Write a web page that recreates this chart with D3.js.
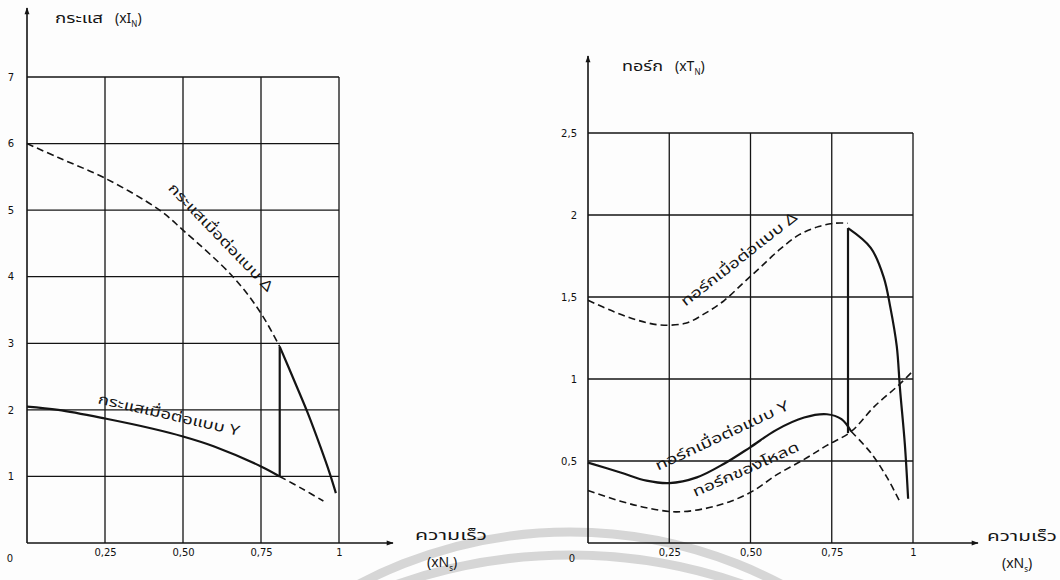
<!DOCTYPE html>
<html>
<head>
<meta charset="utf-8">
<script src="https://cdn.jsdelivr.net/npm/d3@7"></script>
<style>
    body { margin: 0; background: #fdfdfd; }
    svg { display: block; }
    .tick text { font-family: "DejaVu Sans", sans-serif; font-size: 10px; fill: #111; }
    .thai { font-family: "Noto Sans Thai", "Noto Sans", "DejaVu Sans", sans-serif; fill: #151515; }
</style>
</head>
<body>
<div id="chart"></div>
<script>
//Datos - ejes
const speedTicks = [0.25, 0.5, 0.75, 1];
const speedTickLabels = ['0,25', '0,50', '0,75', '1'];
const currentTicks = [1, 2, 3, 4, 5, 6, 7];
const currentTickLabels = ['1', '2', '3', '4', '5', '6', '7'];
const torqueTicks = [0.5, 1, 1.5, 2, 2.5];
const torqueTickLabels = ['0,5', '1', '1,5', '2', '2,5'];

//Datos - corriente (izquierda)
const currentDeltaSpeed = [0, 0.1, 0.25, 0.425, 0.5, 0.66, 0.75, 0.81];
const currentDeltaValue = [6.0, 5.79, 5.48, 5.0, 4.7, 4.0, 3.45, 2.95];
const currentDropSpeed = [0.81, 0.86, 0.9, 0.94, 0.97, 0.99];
const currentDropValue = [2.95, 2.4, 1.95, 1.45, 1.05, 0.75];
const currentSwitchSpeed = [0.81, 0.81];
const currentSwitchValue = [1.0, 2.95];
const currentStarSpeed = [0, 0.1, 0.25, 0.4, 0.5, 0.6, 0.75, 0.81];
const currentStarValue = [2.05, 2.0, 1.87, 1.72, 1.6, 1.45, 1.15, 1.0];
const currentStarTailSpeed = [0.81, 0.88, 0.95];
const currentStarTailValue = [1.0, 0.82, 0.63];

//Datos - par (derecha)
const torqueDeltaSpeed = [0, 0.08, 0.15, 0.22, 0.3, 0.36, 0.42, 0.48, 0.53, 0.59, 0.65, 0.71, 0.76, 0.8];
const torqueDeltaValue = [1.48, 1.41, 1.36, 1.33, 1.34, 1.4, 1.48, 1.59, 1.68, 1.79, 1.88, 1.93, 1.95, 1.95];
const torqueDropSpeed = [0.8, 0.87, 0.91, 0.93, 0.95, 0.96, 0.975, 0.985];
const torqueDropValue = [1.92, 1.8, 1.62, 1.44, 1.2, 0.94, 0.6, 0.27];
const torqueSwitchSpeed = [0.8, 0.8];
const torqueSwitchValue = [0.67, 1.92];
const torqueStarSpeed = [0, 0.1, 0.18, 0.25, 0.335, 0.42, 0.5, 0.58, 0.665, 0.735, 0.78, 0.81];
const torqueStarValue = [0.49, 0.43, 0.38, 0.365, 0.4, 0.485, 0.585, 0.69, 0.765, 0.785, 0.755, 0.68];
const torqueStarTailSpeed = [0.81, 0.87, 0.92, 0.96];
const torqueStarTailValue = [0.68, 0.55, 0.4, 0.25];
const loadSpeed = [0, 0.1, 0.18, 0.27, 0.36, 0.44, 0.51, 0.58, 0.665, 0.735, 0.81, 0.88, 0.96, 1.0];
const loadValue = [0.32, 0.255, 0.215, 0.19, 0.21, 0.255, 0.32, 0.415, 0.51, 0.595, 0.68, 0.83, 0.97, 1.05];

const W = 1060, H = 580;
const INK = '#141414';

let svg = d3.select('#chart').append('svg')
    .attr('width', W)
    .attr('height', H);

//Marca de agua (arcos grises)
svg.append('circle').attr('cx', 570).attr('cy', 985).attr('r', 453)
    .attr('fill', 'none').attr('stroke', '#d6d6d6').attr('stroke-width', 9);
svg.append('circle').attr('cx', 570).attr('cy', 1079).attr('r', 524)
    .attr('fill', 'none').attr('stroke', '#d6d6d6').attr('stroke-width', 9);

//Flechas
svg.append('defs').append('marker')
    .attr('id', 'arrow')
    .attr('viewBox', '0 0 10 10')
    .attr('refX', 9).attr('refY', 5)
    .attr('markerWidth', 9).attr('markerHeight', 7)
    .attr('markerUnits', 'userSpaceOnUse')
    .attr('orient', 'auto')
    .append('path')
    .attr('d', 'M0,1.5 L10,5 L0,8.5 Z')
    .attr('fill', INK);

function zip(xs, ys) {
    return xs.map(function(d, i) { return [d, ys[i]]; });
}

//Texto con subíndice: (xI_N)
function subText(g, px, py, main, sub) {
    let t = g.append('text')
        .attr('class', 'thai')
        .attr('x', px).attr('y', py)
        .style('font-size', '14px');
    t.append('tspan').text('(x' + main);
    t.append('tspan').attr('dy', 4).style('font-size', '8px').text(sub);
    t.append('tspan').attr('dy', -4).text(')');
}

function thaiText(g, px, py, txt, len) {
    g.append('text')
        .attr('class', 'thai')
        .attr('x', px).attr('y', py)
        .attr('textLength', len)
        .attr('lengthAdjust', 'spacingAndGlyphs')
        .style('font-size', '14px')
        .text(txt);
}

function drawPanel(cfg) {
    let x = cfg.x, y = cfg.y;
    let g = svg.append('g');

    //Rejilla
    g.selectAll('.hgrid')
        .data(cfg.yTicks)
        .enter()
        .append('line')
        .attr('x1', x(0)).attr('x2', x(1))
        .attr('y1', function(d) { return y(d); })
        .attr('y2', function(d) { return y(d); })
        .attr('stroke', INK).attr('stroke-width', 1.3);

    g.selectAll('.vgrid')
        .data(speedTicks)
        .enter()
        .append('line')
        .attr('x1', function(d) { return x(d); })
        .attr('x2', function(d) { return x(d); })
        .attr('y1', y(0)).attr('y2', y(cfg.yMax))
        .attr('stroke', INK).attr('stroke-width', 1.3);

    //Ejes con flecha
    g.append('line')
        .attr('x1', x(0)).attr('x2', x(0))
        .attr('y1', y(0)).attr('y2', cfg.yArrow)
        .attr('stroke', INK).attr('stroke-width', 1.6)
        .attr('marker-end', 'url(#arrow)');
    g.append('line')
        .attr('x1', x(0)).attr('x2', cfg.xArrow)
        .attr('y1', y(0)).attr('y2', y(0))
        .attr('stroke', INK).attr('stroke-width', 1.6)
        .attr('marker-end', 'url(#arrow)');

    //Etiquetas de los ejes
    let xAxis = function(gg) {
        gg.call(d3.axisBottom(x).tickValues(speedTicks)
            .tickFormat(function(d, i) { return speedTickLabels[i]; })
            .tickSize(0).tickPadding(6));
        gg.call(function(gg) { gg.select('.domain').remove(); });
    };
    g.append('g')
        .attr('transform', 'translate(0,' + y(0) + ')')
        .call(xAxis);

    let yAxis = function(gg) {
        gg.call(d3.axisLeft(y).tickValues(cfg.yTicks)
            .tickFormat(function(d, i) { return cfg.yLabels[i]; })
            .tickSize(0).tickPadding(cfg.yPad));
        gg.call(function(gg) { gg.select('.domain').remove(); });
    };
    g.append('g')
        .attr('transform', 'translate(' + x(0) + ',0)')
        .call(yAxis);

    //Origen
    g.append('text')
        .attr('x', x(0) - cfg.zeroDx).attr('y', y(0) + 19)
        .attr('text-anchor', 'middle')
        .style('font-family', '"DejaVu Sans", sans-serif')
        .style('font-size', '10px')
        .attr('fill', '#111')
        .text('0');

    //Curvas
    let line = d3.line()
        .x(function(d) { return x(d[0]); })
        .y(function(d) { return y(d[1]); })
        .curve(d3.curveCatmullRom.alpha(0.5));

    cfg.series.forEach(function(s) {
        g.append('path')
            .datum(zip(s.speed, s.value))
            .attr('d', line)
            .attr('fill', 'none')
            .attr('stroke', INK)
            .attr('stroke-width', s.dashed ? 1.6 : 2.2)
            .attr('stroke-dasharray', s.dashed ? '7,4' : null)
            .attr('stroke-linecap', 'butt');
    });

    //Textos sobre curvas (desde el inicio, a lo largo de la curva)
    cfg.labels.forEach(function(l) {
        g.append('text')
            .attr('class', 'thai')
            .attr('transform', 'translate(' + x(l.at[0]) + ',' + y(l.at[1]) + ') rotate(' + l.angle + ')')
            .attr('textLength', l.len)
            .attr('lengthAdjust', 'spacingAndGlyphs')
            .style('font-size', '14px')
            .text(l.text);
    });

    //Títulos
    thaiText(g, cfg.yTitle[0], cfg.yTitle[1], cfg.yTitleText, cfg.yTitleLen);
    subText(g, cfg.yTitle[0] + cfg.yTitleLen + 12, cfg.yTitle[1], cfg.yTitleSym, 'N');
    thaiText(g, cfg.xTitle[0], cfg.xTitle[1], 'ความเร็ว', cfg.xTitleLen);
    subText(g, cfg.xTitle[0] + cfg.xSubDx, cfg.xTitle[1] + 27, 'N', 's');
}

//Panel izquierdo - corriente
drawPanel({
    x: d3.scaleLinear().domain([0, 1]).range([27, 339]),
    y: d3.scaleLinear().domain([0, 7]).range([543, 77]),
    yMax: 7,
    yTicks: currentTicks,
    yLabels: currentTickLabels,
    yPad: 13,
    zeroDx: 17,
    yArrow: 8,
    xArrow: 393,
    yTitle: [55, 23],
    yTitleText: 'กระแส',
    yTitleLen: 48,
    yTitleSym: 'I',
    xTitle: [415, 540],
    xTitleLen: 72,
    xSubDx: 12,
    series: [
        { speed: currentDeltaSpeed, value: currentDeltaValue, dashed: true },
        { speed: currentDropSpeed, value: currentDropValue, dashed: false },
        { speed: currentSwitchSpeed, value: currentSwitchValue, dashed: false },
        { speed: currentStarSpeed, value: currentStarValue, dashed: false },
        { speed: currentStarTailSpeed, value: currentStarTailValue, dashed: true }
    ],
    labels: [
        { text: 'กระแสเมื่อต่อแบบ  Δ', at: [0.45, 5.32], angle: 46, len: 144 },
        { text: 'กระแสเมื่อต่อแบบ  Y', at: [0.225, 2.1], angle: 13, len: 145 }
    ]
});

//Panel derecho - par
drawPanel({
    x: d3.scaleLinear().domain([0, 1]).range([588, 913]),
    y: d3.scaleLinear().domain([0, 2.5]).range([543, 133]),
    yMax: 2.5,
    yTicks: torqueTicks,
    yLabels: torqueTickLabels,
    yPad: 11,
    zeroDx: 16,
    yArrow: 56,
    xArrow: 978,
    yTitle: [622, 71],
    yTitleText: 'ทอร์ก',
    yTitleLen: 41,
    yTitleSym: 'T',
    xTitle: [987, 541],
    xTitleLen: 70,
    xSubDx: 15,
    series: [
        { speed: torqueDeltaSpeed, value: torqueDeltaValue, dashed: true },
        { speed: torqueDropSpeed, value: torqueDropValue, dashed: false },
        { speed: torqueSwitchSpeed, value: torqueSwitchValue, dashed: false },
        { speed: torqueStarSpeed, value: torqueStarValue, dashed: false },
        { speed: torqueStarTailSpeed, value: torqueStarTailValue, dashed: true },
        { speed: loadSpeed, value: loadValue, dashed: true }
    ],
    labels: [
        { text: 'ทอร์กเมื่อต่อแบบ  Δ', at: [0.3, 1.44], angle: -38, len: 143 },
        { text: 'ทอร์กเมื่อต่อแบบ  Y', at: [0.215, 0.44], angle: -25, len: 146 },
        { text: 'ทอร์กของโหลด', at: [0.33, 0.28], angle: -24, len: 115 }
    ]
});
</script>
</body>
</html>
